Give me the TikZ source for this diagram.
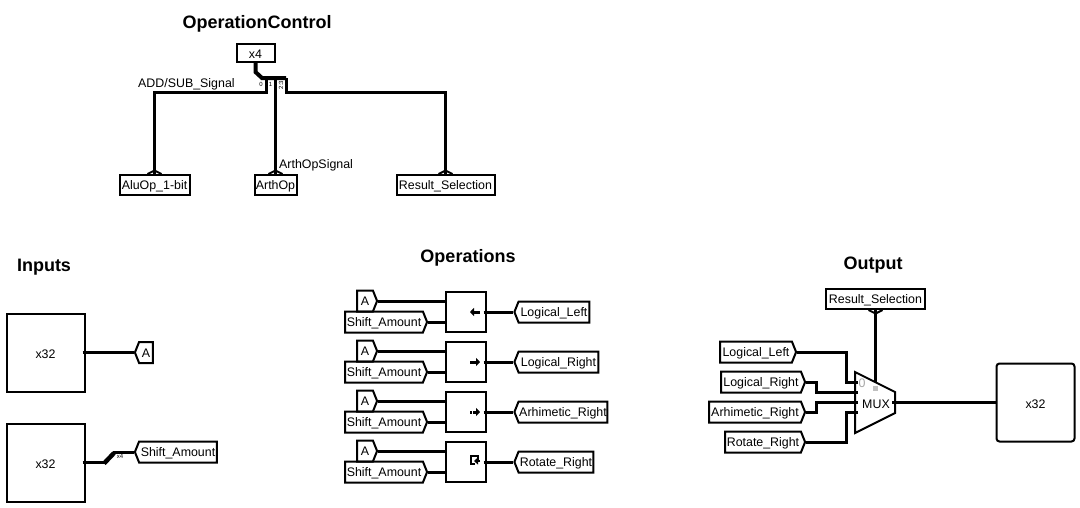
\documentclass[tikz,border=0pt]{standalone}
\usepackage{fontspec}
\setmainfont{Liberation Sans}
\usetikzlibrary{shapes.symbols, arrows.meta}

\tikzset{
    wire/.style={line width=3pt, line join=miter},
    labelfont/.style={font=\fontsize{12.4}{12.4}\selectfont, text height=10pt, text depth=0.4pt},
    tagbox/.style={draw, line width=2pt, shape=signal, signal pointer angle=136, inner sep=0pt, minimum height=21pt, labelfont},
    tagright/.style={tagbox, signal to=east},
    tagleft/.style={tagbox, signal to=west},
    tagplain/.style={draw, line width=2pt, fill=white, inner sep=0pt, minimum height=20pt, labelfont},
    tagdown/.style={tagplain, append after command={([xshift=-7pt]\tikzlastnode.north) edge [line width=2pt] ([yshift=3.5pt]\tikzlastnode.north) ([xshift=7pt]\tikzlastnode.north) edge [line width=2pt] ([yshift=3.5pt]\tikzlastnode.north)}},
    tagup/.style={tagplain, append after command={([xshift=-7pt]\tikzlastnode.south) edge [line width=2pt] ([yshift=-3.5pt]\tikzlastnode.south) ([xshift=7pt]\tikzlastnode.south) edge [line width=2pt] ([yshift=-3.5pt]\tikzlastnode.south)}},
    block/.style={draw, line width=2pt, inner sep=0pt, labelfont, text height=11.5pt},
    title/.style={font=\bfseries\fontsize{18}{18}\selectfont},
    wirelabel/.style={inner sep=0pt, labelfont},
    tinylabel/.style={inner sep=0pt, font=\fontsize{6}{6}\selectfont},
    glyph/.style={line width=3pt, -{Triangle[length=4pt, width=8pt]}}
}

\begin{document}
\begin{tikzpicture}[x=1pt, y=-1pt]
    \useasboundingbox (0, 0) rectangle (1080, 507);

    \node [title] (titleControl) at (257, 24) {OperationControl};
    \node [title] (titleInputs) at (44, 267) {Inputs};
    \node [title] (titleOperations) at (468, 258) {Operations};
    \node [title] (titleOutput) at (873, 265) {Output};

    % operation control
    \node [block, minimum width=38pt, minimum height=18pt] (ctrlIn) at (255.5, 53) {x4};
    \node [tagdown, minimum width=70pt] (tagAluOp) at (154.5, 185) {AluOp\_1-bit};
    \node [tagdown, minimum width=42pt] (tagArthOp) at (275.5, 185) {ArthOp};
    \node [tagdown, minimum width=98pt] (tagResult) at (445.5, 185) {Result\_Selection};
    \coordinate (splitTop) at (262, 78);
    \coordinate (splitEnd) at (286, 78);
    \draw [wire, line width=4pt] (ctrlIn.south) -- ++(0, 9) -- (splitTop) -- (splitEnd);
    \draw [wire] (266, 78) |- (154.5, 92) -- (tagAluOp.north);
    \draw [wire] (275.5, 78) -- (tagArthOp.north);
    \draw [wire] (splitEnd) |- (445.5, 92) -- (tagResult.north);
    \node [tinylabel] (lblBit0) at (261, 84) {0};
    \node [tinylabel] (lblBit1) at (270.5, 84) {1};
    \node [tinylabel, rotate=90] (lblBit2) at (281, 85) {2:3};
    \node [wirelabel, anchor=west] (lblAddSub) at (138, 82.5) {ADD/SUB\_Signal};
    \node [wirelabel, anchor=west] (lblArthOp) at (279, 163.5) {ArthOpSignal};

    % inputs
    \node [block, minimum width=78pt, minimum height=78pt] (inA) at (45.5, 352.5) {x32};
    \node [tagleft, minimum width=18pt] (tagInA) at (146, 352.5) {A};
    \draw [wire, shorten <=-3pt] (inA.east) -- (tagInA.west);
    \node [block, minimum width=78pt, minimum height=78pt] (inShift) at (45.5, 462.5) {x32};
    \node [tagleft, minimum width=82pt] (tagInShift) at (178, 452) {Shift\_Amount};
    \node [tinylabel] (lblSplit) at (120, 456) {x4};
    \draw [wire, shorten <=-3pt] (inShift.east) -- (105, 462.5);
    \draw [wire, line width=4.5pt] (104, 463.5) -- (114, 453);
    \draw [wire] (113, 452) -- (tagInShift.west);

    % operations
    \node [block, minimum width=40pt, minimum height=40pt] (opLeft) at (465.5, 312) {};
    \node [block, minimum width=40pt, minimum height=40pt] (opRight) at (465.5, 362) {};
    \node [block, minimum width=40pt, minimum height=40pt] (opArith) at (465.5, 412) {};
    \node [block, minimum width=40pt, minimum height=40pt] (opRotate) at (465.5, 462) {};

    \node [tagright, minimum width=20pt] (tagLeftA) at (365, 301) {A};
    \node [tagright, minimum width=20pt] (tagRightA) at (365, 351) {A};
    \node [tagright, minimum width=20pt] (tagArithA) at (365, 401) {A};
    \node [tagright, minimum width=20pt] (tagRotateA) at (365, 451) {A};
    \node [tagright, minimum width=82pt] (tagLeftS) at (384, 322) {Shift\_Amount};
    \node [tagright, minimum width=82pt] (tagRightS) at (384, 372) {Shift\_Amount};
    \node [tagright, minimum width=82pt] (tagArithS) at (384, 422) {Shift\_Amount};
    \node [tagright, minimum width=82pt] (tagRotateS) at (384, 472) {Shift\_Amount};
    \node [tagleft, minimum width=75pt] (tagLeftOut) at (554, 312) {Logical\_Left};
    \node [tagleft, minimum width=84pt] (tagRightOut) at (558.5, 362) {Logical\_Right};
    \node [tagleft, minimum width=93pt] (tagArithOut) at (563, 412) {Arhimetic\_Right};
    \node [tagleft, minimum width=79pt] (tagRotateOut) at (556, 462) {Rotate\_Right};

    \draw [wire] (tagLeftA.east) -- (opLeft.west |- tagLeftA.east);
    \draw [wire] (tagRightA.east) -- (opRight.west |- tagRightA.east);
    \draw [wire] (tagArithA.east) -- (opArith.west |- tagArithA.east);
    \draw [wire] (tagRotateA.east) -- (opRotate.west |- tagRotateA.east);
    \draw [wire] (tagLeftS.east) -- (opLeft.west |- tagLeftS.east);
    \draw [wire] (tagRightS.east) -- (opRight.west |- tagRightS.east);
    \draw [wire] (tagArithS.east) -- (opArith.west |- tagArithS.east);
    \draw [wire] (tagRotateS.east) -- (opRotate.west |- tagRotateS.east);
    \draw [wire, shorten <=-3pt] (opLeft.east) -- (tagLeftOut.west);
    \draw [wire, shorten <=-3pt] (opRight.east) -- (tagRightOut.west);
    \draw [wire, shorten <=-3pt] (opArith.east) -- (tagArithOut.west);
    \draw [wire, shorten <=-3pt] (opRotate.east) -- (tagRotateOut.west);

    % glyphs in the operation blocks
    \draw [glyph] (480, 312) -- (470, 312);
    \draw [glyph] (470, 362) -- (480, 362);
    \draw [line width=3pt] (470, 412) -- (472, 412);
    \draw [glyph] (473, 412) -- (480, 412);
    \draw [line width=2pt] (475, 464) -| (471, 456) -| (478, 460);
    \draw [line width=2pt, -{Triangle[length=4pt, width=7pt]}] (480, 461) -- (474, 461);

    % output
    \node [tagup, minimum width=99pt] (tagSel) at (875.5, 299) {Result\_Selection};
    \node [tagright, minimum width=76pt] (tagMuxLeft) at (756, 352) {Logical\_Left};
    \node [tagright, minimum width=84pt] (tagMuxRight) at (761, 382) {Logical\_Right};
    \node [tagright, minimum width=96pt] (tagMuxArith) at (755, 412) {Arhimetic\_Right};
    \node [tagright, minimum width=80pt] (tagMuxRotate) at (763, 442) {Rotate\_Right};
    \node [block, rounded corners=3pt, minimum width=78pt, minimum height=78pt] (outBox) at (1035.5, 402.5) {x32};
    \coordinate (muxIn0) at (858, 382);
    \coordinate (muxIn1) at (858, 392);
    \coordinate (muxIn2) at (858, 402);
    \coordinate (muxIn3) at (858, 412);
    \coordinate (muxSel) at (875.5, 383);
    \coordinate (muxOut) at (892, 402.5);
    \draw [wire] (tagSel.south) -- (muxSel);
    \draw [wire] (muxOut) -- (outBox.west);
    \draw [fill=white, line width=2pt] (855, 372) -- (895, 392) -- (895, 413) -- (855, 433) -- cycle;
    \draw [wire] (tagMuxLeft.east) -| (846, 382) -- (muxIn0);
    \draw [wire] (tagMuxRight.east) -| (816, 392) -- (muxIn1);
    \draw [wire] (tagMuxArith.east) -| (816, 402) -- (muxIn2);
    \draw [wire] (tagMuxRotate.east) -| (846, 412) -- (muxIn3);
    \draw [wire] (892, 402.5) -- (897, 402.5);
    \node [wirelabel] (lblMux) at (876, 404) {MUX};
    \node [wirelabel, text=gray!70] (lblZero) at (862, 383) {0};
    \fill [gray!50] (872.5, 386) rectangle (877.5, 391);
\end{tikzpicture}
\end{document}
